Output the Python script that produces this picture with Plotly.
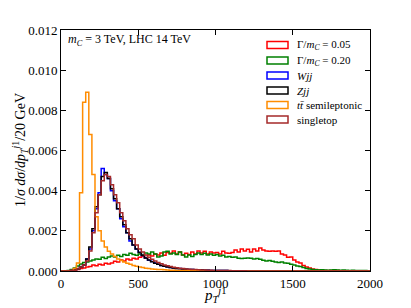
import plotly.graph_objects as go

# bin edges: 0..2000 GeV in 20 GeV bins (100 bins)
bin_width = 20
n_bins = 100
edges = [i * bin_width for i in range(n_bins + 1)]

def pad(vals):
    return vals + [0.0] * (n_bins - len(vals))

ttbar = pad([0, 0, 0, 0.00003, 0.00012, 0.0004, 0.0039, 0.0084, 0.0089, 0.0068,
             0.0048, 0.0027, 0.0020, 0.0015, 0.0012, 0.00098, 0.00085, 0.00072, 0.0006, 0.00052,
             0.00045, 0.00039, 0.00033, 0.00028, 0.00024, 0.0002, 0.00017, 0.00014, 0.00012, 0.0001,
             0.00009, 0.00008, 0.00007, 0.00006, 0.00005, 0.00004, 0.00004, 0.00003, 0.00003, 0.00002,
             0.00002, 0.00002, 0.00001, 0.00001, 0.00001, 0.00001])

zjj = pad([0, 0, 0, 0.00002, 0.00005, 0.0001, 0.0002, 0.0003, 0.0006, 0.0012,
           0.0021, 0.0032, 0.0038, 0.0047, 0.0049, 0.0046, 0.0041, 0.0036, 0.0031, 0.0027,
           0.0023, 0.0019, 0.0016, 0.0013, 0.0011, 0.00092, 0.00078, 0.00065, 0.00055, 0.00046,
           0.00039, 0.00033, 0.00028, 0.00024, 0.0002, 0.00017, 0.00015, 0.00013, 0.00011, 0.0001,
           0.00009, 0.00008, 0.00007, 0.00006, 0.00005, 0.00005, 0.00004, 0.00004, 0.00003, 0.00003,
           0.00002, 0.00002, 0.00002, 0.00002, 0.00001, 0.00001, 0.00001, 0.00001, 0.00001, 0.00001])

wjj = pad([0, 0, 0, 0.00002, 0.00005, 0.0001, 0.0002, 0.0003, 0.0006, 0.0011,
           0.0020, 0.0031, 0.0039, 0.0051, 0.0048, 0.0046, 0.0040, 0.0035, 0.0031, 0.0026,
           0.0022, 0.0019, 0.0015, 0.0013, 0.0011, 0.00093, 0.00077, 0.00066, 0.00054, 0.00047,
           0.0004, 0.00034, 0.00028, 0.00024, 0.00021, 0.00018, 0.00015, 0.00013, 0.00012, 0.0001,
           0.00009, 0.00008, 0.00007, 0.00006, 0.00006, 0.00005, 0.00004, 0.00004, 0.00003, 0.00003,
           0.00002, 0.00002, 0.00002, 0.00002, 0.00001, 0.00001, 0.00001, 0.00001, 0.00001, 0.00001])

singletop = pad([0, 0, 0, 0.00002, 0.00004, 0.0001, 0.0002, 0.0003, 0.0005, 0.0010,
                 0.0019, 0.0029, 0.0038, 0.0045, 0.0048, 0.0047, 0.0043, 0.0038, 0.0034, 0.0029,
                 0.0025, 0.0021, 0.0018, 0.0016, 0.0013, 0.0011, 0.00095, 0.0008, 0.00068, 0.00058,
                 0.0005, 0.00042, 0.00036, 0.0003, 0.00026, 0.00022, 0.00019, 0.00016, 0.00014, 0.00012,
                 0.0001, 0.00009, 0.00008, 0.00007, 0.00006, 0.00005, 0.00005, 0.00004, 0.00004, 0.00003,
                 0.00003, 0.00002, 0.00002, 0.00002, 0.00002, 0.00001, 0.00001, 0.00001, 0.00001, 0.00001])

sig005 = pad([0, 0, 0, 0.00001, 0.00004, 0.00008, 0.00013, 0.00015, 0.0002, 0.00022,
              0.0003, 0.00026, 0.00033, 0.0003, 0.00038, 0.00035, 0.0004, 0.00048, 0.00045, 0.00055,
              0.0005, 0.0006, 0.00055, 0.00063, 0.0006, 0.00068, 0.00072, 0.00065, 0.0008, 0.00075,
              0.00085, 0.0008, 0.0009, 0.00078, 0.00092, 0.00088, 0.001, 0.00085, 0.00095, 0.0008,
              0.00088, 0.00082, 0.00095, 0.00085, 0.001, 0.0009, 0.00098, 0.00085, 0.00095, 0.0009,
              0.00092, 0.00085, 0.00098, 0.0009, 0.00088, 0.00092, 0.00105, 0.00095, 0.0011, 0.001,
              0.00108, 0.00095, 0.0011, 0.001, 0.00115, 0.00105, 0.001, 0.00098, 0.001, 0.00098,
              0.001, 0.00085, 0.0008, 0.00068, 0.0007, 0.00055, 0.00045, 0.0004, 0.00028, 0.0002,
              0.00015, 0.0001, 0.00007, 0.00005, 0.00004, 0.00003, 0.00003, 0.00002, 0.00002, 0.00002,
              0.00001, 0.00001, 0.00001, 0.00001, 0.00001])

sig020 = pad([0, 0, 0.00002, 0.00008, 0.00015, 0.00025, 0.00035, 0.00042, 0.00045, 0.0005,
              0.00055, 0.0006, 0.00058, 0.00068, 0.00062, 0.0007, 0.00075, 0.0007, 0.00078, 0.00072,
              0.00082, 0.00078, 0.00088, 0.00082, 0.00078, 0.00085, 0.0008, 0.0009, 0.00085, 0.00095,
              0.00085, 0.0007, 0.00075, 0.00095, 0.00098, 0.00085, 0.0009, 0.00082, 0.00095, 0.0008,
              0.0007, 0.0008, 0.00072, 0.00082, 0.0009, 0.00082, 0.00088, 0.0008, 0.00085, 0.00078,
              0.00082, 0.00075, 0.00078, 0.0007, 0.00072, 0.00068, 0.0007, 0.00063, 0.00062, 0.00063,
              0.00065, 0.00063, 0.0006, 0.00062, 0.00058, 0.00053, 0.0005, 0.00052, 0.00048, 0.00045,
              0.00042, 0.00045, 0.0004, 0.00038, 0.00033, 0.0003, 0.00025, 0.00022, 0.00018, 0.00012,
              0.0001, 0.00008, 0.00006, 0.00005, 0.00006, 0.00005, 0.00004, 0.00005, 0.00006, 0.00005,
              0.00004, 0.00005, 0.00004, 0.00003, 0.00004, 0.00003, 0.00003, 0.00002, 0.00002, 0.00001])

series = [
    ("Γ/<i>m</i><sub><i>C</i></sub> = 0.05", sig005, "#ff0000"),
    ("Γ/<i>m</i><sub><i>C</i></sub> = 0.20", sig020, "#008000"),
    ("<i>Wjj</i>", wjj, "#0000ff"),
    ("<i>Zjj</i>", zjj, "#000000"),
    ("<i>tt̄</i> semileptonic", ttbar, "#ff8c00"),
    ("singletop", singletop, "#a52a2a"),
]

FONT = "Liberation Serif"
OFF = 8  # default page body margin
W, H = 411 - OFF, 308 - OFF
ML, MR, MT, MB = 61 - OFF, 41, 30 - OFF, 37
PW, PH = W - ML - MR, H - MT - MB

def px2paper(px, py):
    # px, py are page coordinates
    return (px - OFF - ML) / PW, (H - MB - (py - OFF)) / PH

fig = go.Figure()

# step outlines
for name, vals, col in series:
    xs = [edges[0]] + edges
    ys = [0.0] + vals + [0.0]
    fig.add_trace(go.Scatter(x=xs, y=ys, mode="lines", name=name,
                             line=dict(color=col, width=1.5, shape="hv"),
                             showlegend=False, hoverinfo="skip"))

axis_common = dict(showline=True, linecolor="black", linewidth=1, mirror="ticks", ticks="inside",
                   ticklen=5, tickcolor="black", showgrid=False, zeroline=False, automargin=False,
                   tickfont=dict(family=FONT, size=13, color="black"))

shapes = []
annotations = []
# manual legend: outlined boxes + labels
row_y = [45, 60.5, 75.5, 90.5, 105, 119.5]
for (name, vals, col), py in zip(series, row_y):
    x0, y0 = px2paper(267, py + 3.5)
    x1, y1 = px2paper(288, py - 3.5)
    shapes.append(dict(type="rect", xref="paper", yref="paper", x0=x0, y0=y0, x1=x1, y1=y1,
                       line=dict(color=col, width=1.5), fillcolor="rgba(0,0,0,0)"))
    tx, ty = px2paper(295, py)
    annotations.append(dict(text=name, xref="paper", yref="paper", x=tx, y=ty, xanchor="left",
                            yanchor="middle", showarrow=False, font=dict(family=FONT, size=11, color="black")))

ax, ay = px2paper(66, 40)
annotations.append(dict(text="<i>m</i><sub><i>C</i></sub> = 3 TeV, LHC 14 TeV", xref="paper", yref="paper",
                        x=ax, y=ay, xanchor="left", yanchor="middle", showarrow=False,
                        font=dict(family=FONT, size=12, color="black")))
xtx, xty = px2paper(215, 295)
annotations.append(dict(text="<i>p</i><sub><i>T</i></sub><sup><i>j</i>1</sup>", xref="paper", yref="paper",
                        x=xtx, y=xty, xanchor="center", yanchor="middle", showarrow=False,
                        font=dict(family=FONT, size=15, color="black")))
ytx, yty = px2paper(20, 150)
annotations.append(dict(text="1/<i>σ</i> <i>dσ</i>/<i>dp</i><sub><i>T</i></sub><sup><i>j</i>1</sup>/20 GeV",
                        xref="paper", yref="paper", x=ytx, y=yty, xanchor="center", yanchor="middle",
                        textangle=-90, showarrow=False, font=dict(family=FONT, size=14, color="black")))

fig.update_layout(
    width=W, height=H,
    margin=dict(l=ML, r=MR, t=MT, b=MB),
    plot_bgcolor="white", paper_bgcolor="white",
    font=dict(family=FONT, color="black"),
    showlegend=False,
    xaxis=dict(range=[0, 2000], tickvals=[0, 500, 1000, 1500, 2000], **axis_common),
    yaxis=dict(range=[0, 0.012], tickvals=[0, 0.002, 0.004, 0.006, 0.008, 0.010, 0.012], tickformat=".3f",
               **axis_common),
    shapes=shapes,
    annotations=annotations,
)

fig.write_html("out.html")
